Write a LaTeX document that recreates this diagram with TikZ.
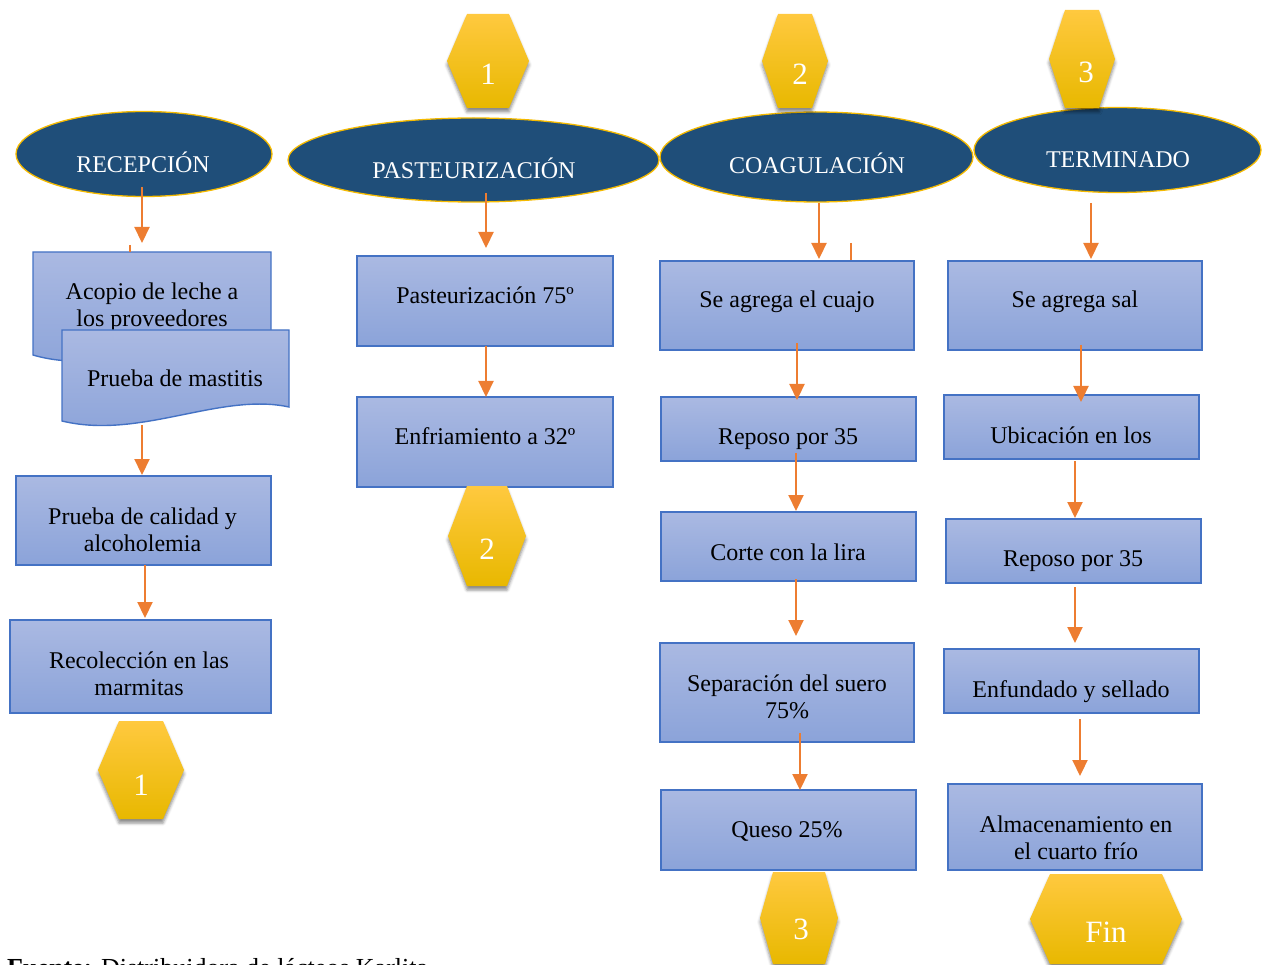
\documentclass[tikz,border=0pt]{standalone}
\usepackage{fontspec}
\setmainfont{Liberation Serif}
\usetikzlibrary{shapes.geometric,arrows.meta,shadows.blur}
\definecolor{navy}{HTML}{1F4E79}
\definecolor{goldline}{HTML}{F5BA00}
\definecolor{arrowc}{HTML}{ED7D31}
\definecolor{boxline}{HTML}{4472C4}
\definecolor{boxtop}{HTML}{AAB9E2}
\definecolor{boxbot}{HTML}{8BA3D9}
\definecolor{hextop}{HTML}{FFC93F}
\definecolor{hexmid}{HTML}{FFC400}
\definecolor{hexbot}{HTML}{E8B800}
\newcommand\mybox[5]{\node[box, minimum width={#4-#2}, minimum height={#5-#3}] (#1) at ({(#2+#4)/2},{(#3+#5)/2}) {};}
\newcommand\myhex[6]{%
  \path[hexfill] ({#2-#4},#3) -- ({#2-#5},{#3-#6}) -- ({#2+#5},{#3-#6}) -- ({#2+#4},#3) -- ({#2+#5},{#3+#6}) -- ({#2-#5},{#3+#6}) -- cycle;
  \coordinate (#1) at (#2,#3);}
\newcommand\twol[2]{\begin{tabular}[b]{@{}c@{}}#1\\#2\end{tabular}}
\begin{document}
\begin{tikzpicture}[x=1pt,y=-1pt,
  box/.style={draw=boxline, line width=1.4pt, top color=boxtop, bottom color=boxbot, inner sep=0pt, shape=rectangle},
  docbox/.style={draw=boxline, line width=1.4pt, top color=boxtop, bottom color=boxbot},
  ell/.style={ellipse, draw=goldline, line width=1.3pt, fill=navy, inner sep=0pt},
  hexfill/.style={top color=hextop, middle color=hexmid, bottom color=hexbot,
     blur shadow={shadow xshift=0pt, shadow yshift=-4pt, shadow opacity=45, shadow blur radius=3pt}},
  txt/.style={font=\fontsize{24}{27}\selectfont, inner sep=0pt, anchor=base},
  etxt/.style={txt, text=white},
  htxt/.style={font=\fontsize{31}{34}\selectfont, inner sep=0pt, anchor=base, text=white},
  arr/.style={draw=arrowc, line width=2.2pt, -{Triangle[width=15pt,length=16pt]}},
  stub/.style={draw=arrowc, line width=2pt}
]
\useasboundingbox (0,0) rectangle (1264,965);
\clip (0,0) rectangle (1264,965);

% ---------- headers (ellipses)
\node[ell, minimum width=256, minimum height=85] (rec) at (144,154) {};
\node[etxt] (rect) at (143,173) {RECEPCIÓN};
\node[ell, minimum width=371, minimum height=84] (pas) at (473.5,160) {};
\node[etxt] (past) at (474,179) {PASTEURIZACIÓN};
\node[ell, minimum width=313, minimum height=90] (coa) at (816.5,157) {};
\node[etxt] (coat) at (817,174) {COAGULACIÓN};
\node[ell, minimum width=287, minimum height=85] (ter) at (1117.5,150) {};
\node[etxt] (tert) at (1118,168) {TERMINADO};

% ---------- connector hexagons
\myhex{h1}{488}{61}{41}{21}{47}
\node[htxt] (h1t) at (488,85) {1};
\myhex{h2}{795}{61}{33}{17}{47}
\node[htxt] (h2t) at (800,85) {2};
\myhex{h3}{1082}{59}{33}{17}{49}
\node[htxt] (h3t) at (1086,83) {3};

% ---------- column 1
\path[docbox] (33,252) -- (271,252) -- (271,343) .. controls (200,328) and (110,378) .. (33,355) -- cycle;
\coordinate (acopio) at (152,300);
\node[txt] (acopiot) at (152,327) {\twol{Acopio de leche a}{los proveedores}};
\path[docbox] (62,330) -- (289,330) -- (289,407) .. controls (220,392) and (140,440) .. (62,421) -- cycle;
\coordinate (mast) at (175,375);
\node[txt] (mastt) at (175,387) {Prueba de mastitis};
\mybox{cal}{16}{476}{271}{565}
\node[txt] (calt) at (142.5,551) {\twol{Prueba de calidad y}{alcoholemia}};
\mybox{reco}{10}{620}{271}{713}
\node[txt] (recot) at (139,695) {\twol{Recolección en las}{marmitas}};
\myhex{h1b}{141}{770}{43}{22}{49}
\node[htxt] (h1bt) at (141,795) {1};

% ---------- column 2
\mybox{pasb}{357}{256}{613}{346}
\node[txt] (pasbt) at (485,304) {Pasteurización 75º};
\mybox{enf}{357}{397}{613}{487}
\node[txt] (enft) at (485,445) {Enfriamiento a 32º};
\myhex{h2b}{487}{536}{39}{20}{50}
\node[htxt] (h2bt) at (487,559) {2};

% ---------- column 3
\mybox{cua}{660}{261}{914}{350}
\node[txt] (cuat) at (787,308) {Se agrega el cuajo};
\mybox{rep1}{661}{397}{916}{461}
\node[txt] (rep1t) at (788,445) {Reposo por 35};
\mybox{cor}{661}{512}{916}{581}
\node[txt] (cort) at (788,560) {Corte con la lira};
\mybox{sep}{660}{643}{914}{742}
\node[txt] (sept) at (787,718) {\twol{Separación del suero}{75\%}};
\mybox{que}{661}{790}{916}{870}
\node[txt] (quet) at (787,837) {Queso 25\%};
\myhex{h3b}{799}{918}{39}{26}{46}
\node[htxt] (h3bt) at (801,939) {3};

% ---------- column 4
\mybox{sal}{948}{261}{1202}{350}
\node[txt] (salt) at (1075,308) {Se agrega sal};
\mybox{ubi}{944}{395}{1199}{459}
\node[txt] (ubit) at (1071,443) {Ubicación en los};
\mybox{rep2}{946}{519}{1201}{583}
\node[txt] (rep2t) at (1073,566) {Reposo por 35};
\mybox{enfu}{944}{649}{1199}{713}
\node[txt] (enfut) at (1071,697) {Enfundado y sellado};
\mybox{alm}{948}{784}{1202}{870}
\node[txt] (almt) at (1076,859) {\twol{Almacenamiento en}{el cuarto frío}};
\myhex{fin}{1106}{919}{76}{56}{45}
\node[htxt] (fint) at (1106,942) {Fin};

% ---------- connectors
\coordinate (a1s) at (142,187);  \coordinate (a1e) at (142,243);
\coordinate (a2s) at (142,425);  \coordinate (a2e) at (142,475);
\coordinate (a3s) at (145,565);  \coordinate (a3e) at (145,618);
\coordinate (a4s) at (486,193);  \coordinate (a4e) at (486,248);
\coordinate (a5s) at (486,346);  \coordinate (a5e) at (486,397);
\coordinate (a6s) at (819,203);  \coordinate (a6e) at (819,259);
\coordinate (a7s) at (797,343);  \coordinate (a7e) at (797,400);
\coordinate (a8s) at (796,453);  \coordinate (a8e) at (796,511);
\coordinate (a9s) at (796,579);  \coordinate (a9e) at (796,636);
\coordinate (a10s) at (800,733); \coordinate (a10e) at (800,790);
\coordinate (a11s) at (1091,203); \coordinate (a11e) at (1091,259);
\coordinate (a12s) at (1081,345); \coordinate (a12e) at (1081,402);
\coordinate (a13s) at (1075,461); \coordinate (a13e) at (1075,518);
\coordinate (a14s) at (1075,587); \coordinate (a14e) at (1075,643);
\coordinate (a15s) at (1080,719); \coordinate (a15e) at (1080,776);
\foreach \i in {1,...,15} {\draw[arr] (a\i s) -- (a\i e);}
\coordinate (s1) at (130,245);
\draw[stub, line width=1.5pt] (s1) -- (s1 |- 0,252);
\coordinate (s2) at (851,243);
\draw[stub] (s2) -- (s2 |- cua.north);

% ---------- source line (cut by the lower edge, as in the original)
\node[txt, font=\fontsize{26}{29}\selectfont, anchor=base west] (fuente) at (7,976) {\textbf{Fuente:} Distribuidora de lácteos Karlita};
\end{tikzpicture}
\end{document}
